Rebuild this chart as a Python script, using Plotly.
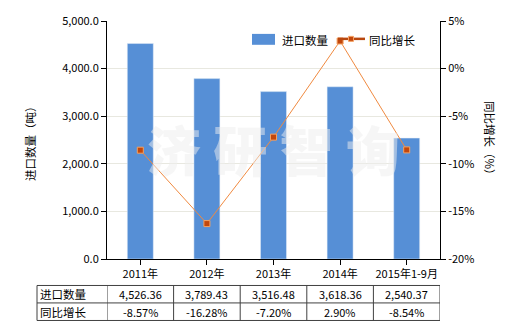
import plotly.graph_objects as go

categories = ["2011年", "2012年", "2013年", "2014年", "2015年1-9月"]
import_qty = [4526.36, 3789.43, 3516.48, 3618.36, 2540.37]
yoy_growth = [-8.57, -16.28, -7.20, 2.90, -8.54]
qty_labels = ["4,526.36", "3,789.43", "3,516.48", "3,618.36", "2,540.37"]
yoy_labels = ["-8.57%", "-16.28%", "-7.20%", "2.90%", "-8.54%"]
row_names = ["进口数量", "同比增长"]
y2_ticks = [-20, -15, -10, -5, 0, 5]
y2_ticktext = ["-20%", "-15%", "-10%", "-5%", "0%", "5%"]

FONT = "Noto Sans CJK SC"
BAR = "#568FD6"
LINE = "#F08A40"
MARK = "#C2470C"

W, H = 520, 330
L, R, T, B = 107, 80, 19, 71
PW, PH = W - L - R, H - T - B

def px(x):
    return (x - L) / PW

def py(y):
    return (H - B - y) / PH

fig = go.Figure()
fig.add_trace(go.Bar(x=list(range(len(categories))), y=import_qty, marker_color=BAR,
                     width=0.39, showlegend=False, yaxis="y"))
fig.add_trace(go.Scatter(x=list(range(len(categories))), y=yoy_growth, mode="lines+markers",
                         line=dict(color=LINE, width=1),
                         marker=dict(symbol="square", size=6, color=MARK,
                                     line=dict(color="#F5A060", width=1)),
                         showlegend=False, yaxis="y2"))

shapes = []
annotations = []

# table geometry (paper y)
ty0, ty1, ty2 = py(285.7), py(303.3), py(321)
xl = px(37)
lc = dict(color="#404040", width=1)
for yy in (ty0, ty1, ty2):
    shapes.append(dict(type="line", xref="paper", yref="paper", x0=xl, x1=1.0, y0=yy, y1=yy, line=lc))
shapes.append(dict(type="line", xref="paper", yref="paper", x0=xl, x1=xl, y0=ty0, y1=ty2, line=lc))
for k in range(len(categories) + 1):
    xb = k - 0.5
    shapes.append(dict(type="line", xref="x", yref="paper", x0=xb, x1=xb, y0=ty0, y1=ty2, line=lc))

for r, (name, labels) in enumerate(zip(row_names, [qty_labels, yoy_labels])):
    yc = (ty0 + ty1) / 2 if r == 0 else (ty1 + ty2) / 2
    annotations.append(dict(xref="paper", yref="paper", x=px(38), y=yc, text=name, showarrow=False,
                            xanchor="left", yanchor="middle", font=dict(family=FONT, size=11.5, color="#000")))
    for i, t in enumerate(labels):
        annotations.append(dict(xref="x", yref="paper", x=i, y=yc, text=t, showarrow=False,
                                xanchor="center", yanchor="middle", font=dict(family=FONT, size=11, color="#000")))

# legend (manual)
shapes.append(dict(type="rect", xref="paper", yref="paper", x0=px(252), x1=px(275), y0=py(43), y1=py(32),
                   fillcolor=BAR, line=dict(width=0)))
annotations.append(dict(xref="paper", yref="paper", x=px(280), y=py(38), text="进口数量", showarrow=False,
                        xanchor="left", yanchor="middle", font=dict(family=FONT, size=11.5, color="#000")))
shapes.append(dict(type="line", xref="paper", yref="paper", x0=px(338), x1=px(365), y0=py(37), y1=py(37),
                   line=dict(color="#B8470F", width=2.5)))
shapes.append(dict(type="rect", xref="paper", yref="paper", x0=px(348.5), x1=px(353.5), y0=py(39.5), y1=py(34.5),
                   fillcolor=MARK, line=dict(color="#F5A060", width=1)))
annotations.append(dict(xref="paper", yref="paper", x=px(367), y=py(38), text="同比增长", showarrow=False,
                        xanchor="left", yanchor="middle", font=dict(family=FONT, size=11.5, color="#000")))

# axis titles
annotations.append(dict(xref="paper", yref="paper", x=px(30), y=py(140), text="进口数量（吨）", showarrow=False,
                        textangle=-90, xanchor="center", yanchor="middle", font=dict(family=FONT, size=11.5, color="#000")))
annotations.append(dict(xref="paper", yref="paper", x=px(490), y=py(140), text="同比增长（%）", showarrow=False,
                        textangle=90, xanchor="center", yanchor="middle", font=dict(family=FONT, size=11.5, color="#000")))

# watermark
annotations.append(dict(xref="paper", yref="paper", x=0.5, y=py(148), text="济 研 智 询", showarrow=False,
                        xanchor="center", yanchor="middle",
                        font=dict(family=FONT, size=54, color="rgba(238,238,238,0.5)", weight=900)))

fig.update_layout(
    width=W, height=H,
    margin=dict(l=L, r=R, t=T, b=B, pad=0),
    paper_bgcolor="white", plot_bgcolor="white",
    font=dict(family=FONT, size=11, color="#000"),
    xaxis=dict(range=[-0.5, len(categories) - 0.5], tickvals=list(range(len(categories))), ticktext=categories,
               showline=True, linecolor="#000", linewidth=1, ticks="outside", ticklen=5, tickcolor="#000",
               showgrid=False, zeroline=False, tickfont=dict(family=FONT, size=11)),
    yaxis=dict(range=[0, 5000], dtick=1000, tickformat=",.1f", showline=True, linecolor="#000", linewidth=1,
               ticks="outside", ticklen=5, tickcolor="#000", showgrid=True, gridcolor="#E8E8E0", gridwidth=1,
               zeroline=False, tickfont=dict(family=FONT, size=11)),
    yaxis2=dict(range=[-20, 5], tickvals=y2_ticks, ticktext=y2_ticktext, overlaying="y", side="right",
                showline=True, linecolor="#000", linewidth=1, ticks="outside", ticklen=5, tickcolor="#000",
                showgrid=False, zeroline=False, tickfont=dict(family=FONT, size=11)),
    shapes=shapes,
    annotations=annotations,
)

fig.write_html("out.html")
